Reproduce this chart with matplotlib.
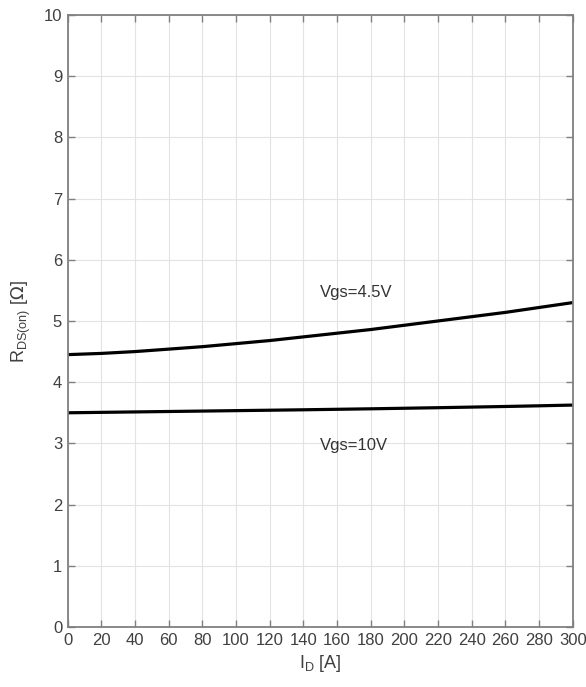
import matplotlib.pyplot as plt
import numpy as np

plt.rcParams['font.family'] = ['Liberation Sans', 'DejaVu Sans']

i_d = [0, 20, 40, 60, 80, 100, 120, 140, 160, 180, 200, 220, 240, 260, 280, 300]
r_vgs45 = [4.45, 4.47, 4.50, 4.54, 4.58, 4.63, 4.68, 4.74, 4.80, 4.86, 4.93, 5.00, 5.07, 5.14, 5.22, 5.30]
r_vgs10 = [3.500, 3.507, 3.514, 3.521, 3.528, 3.535, 3.542, 3.549, 3.557, 3.565, 3.574, 3.583, 3.593, 3.603, 3.614, 3.626]

x_ticks = list(range(0, 301, 20))
y_ticks = list(range(0, 11))

fig = plt.figure(figsize=(5.86, 6.87), dpi=100)
ax = fig.add_axes([0.1155, 0.0873, 0.8618, 0.891])

ax.plot(i_d, r_vgs45, color='black', linewidth=2.3)
ax.plot(i_d, r_vgs10, color='black', linewidth=2.3)

ax.text(150, 5.46, 'Vgs=4.5V', fontsize=12, va='center', ha='left', color='#333333')
ax.text(150, 2.96, 'Vgs=10V', fontsize=12, va='center', ha='left', color='#333333')

ax.set_xlim(0, 300)
ax.set_ylim(0, 10)
ax.set_xticks(x_ticks)
ax.set_yticks(y_ticks)
ax.grid(True, color='#e3e3e3', linewidth=0.8)
ax.set_axisbelow(True)

gray = '#808080'
for s in ax.spines.values():
    s.set_color(gray)
    s.set_linewidth(1.3)
ax.tick_params(direction='in', length=5, width=1.0, color=gray,
               labelsize=12, labelcolor='#404040',
               top=True, right=True, pad=4)

ax.set_xlabel(r'I$_\mathregular{D}$ [A]', fontsize=13, color='#404040', labelpad=4)
ax.set_ylabel(r'R$_\mathregular{DS(on)}$ [$\Omega$]', fontsize=13, color='#404040', labelpad=8)

fig.savefig('out.png', dpi=100)
